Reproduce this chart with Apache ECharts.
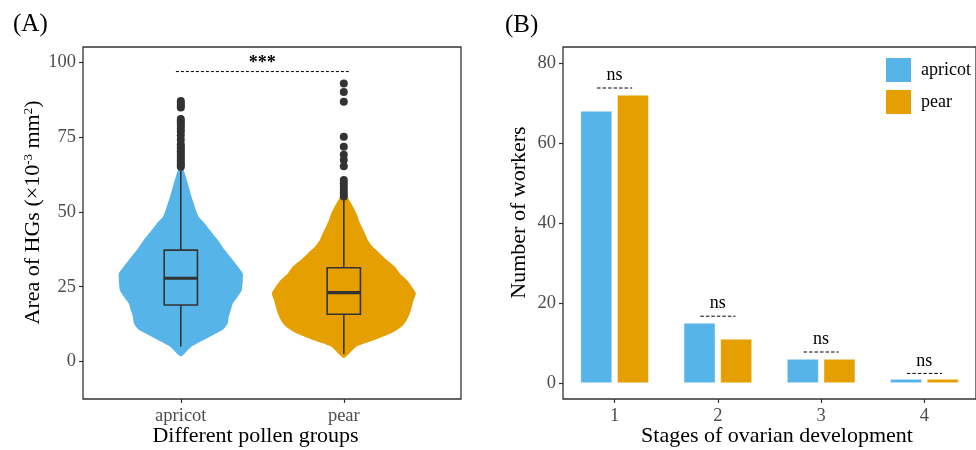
<!DOCTYPE html>
<html><head><meta charset="utf-8">
<script src="https://cdn.jsdelivr.net/npm/echarts@6/dist/echarts.min.js"></script>
<style>html,body{margin:0;padding:0;background:#fff}#c{width:976px;height:450px}</style>
</head><body><div id="c"></div>
<script>
// ---------- Panel A data ----------
const groups = ['apricot', 'pear'];
const groupX = [1, 2];
// violin outline: [value, half-width in x-axis units]
const violinApricot = [[1.7,0],[5,0.066],[8.3,0.178],[10.6,0.258],[12.8,0.288],[15,0.294],[17.2,0.307],[19.4,0.319],[21.7,0.35],[23.9,0.374],[27.2,0.38],[29.4,0.38],[31.7,0.35],[33.9,0.319],[37.2,0.27],[40.6,0.227],[43.9,0.178],[46.1,0.147],[48.3,0.11],[51.7,0.086],[55,0.066],[58.3,0.049],[61.7,0.031],[63.9,0.018],[66,0]];
const violinPear = [[1.2,0],[5,0.078],[7.2,0.19],[9.5,0.294],[11.7,0.356],[13.9,0.387],[16.1,0.405],[18.3,0.417],[20.6,0.429],[22.8,0.442],[25,0.417],[27.2,0.387],[29.4,0.344],[31.7,0.313],[33.9,0.264],[36.1,0.221],[38.3,0.178],[40.6,0.147],[42.8,0.129],[45,0.11],[47.2,0.092],[49.4,0.078],[51.7,0.057],[53.9,0.033],[55.6,0.017],[57.5,0]];
// box: [lower whisker, Q1, median, Q3, upper whisker]
const boxApricot = [5, 18.9, 27.8, 37.2, 63.9];
const boxPear = [2.5, 15.8, 23, 31.3, 54.5];
const outApricot = [65,65.6,66.3,67,67.8,68.6,69.4,70.2,71,71.8,72.5,74,75.5,76.8,77.7,78.6,79.5,80.2,81,84.8,85.5,86.3,87];
const outPear = [55.1,56.2,57.3,58.4,59.5,60.6,65.2,67.3,69,71.7,75,86.7,90,92.8];
const yTicksA = [0, 25, 50, 75, 100];
const sigAX = [0.97, 2.03];
const sigAY = 96.8;
const sigALabel = '***';

// ---------- Panel B data ----------
const stages = ['1', '2', '3', '4'];
const countApricot = [68, 15, 6, 1];
const countPear = [72, 11, 6, 1];
const yTicksB = [0, 20, 40, 60, 80];
const sigBY = [73.75, 16.7, 7.75, 2.4];
const sigBLabel = ['ns', 'ns', 'ns', 'ns'];

const colors = ['#56B4E9', '#E69F00'];
const FONT = 'Liberation Serif';
const tickColor = '#4d4d4d';

const chart = echarts.init(document.getElementById('c'), null, {renderer: 'canvas'});

function violinItem(params, api) {
  const i = params.dataIndex;
  const prof = [violinApricot, violinPear][i];
  const x = groupX[i];
  const right = prof.map(p => api.coord([x + p[1], p[0]]));
  const left = prof.slice(1, -1).reverse().map(p => api.coord([x - p[1], p[0]]));
  return {type: 'polygon', shape: {points: right.concat(left), smooth: 0.2},
    style: {fill: colors[i]}};
}
function boxItem(params, api) {
  const i = params.dataIndex;
  const b = [boxApricot, boxPear][i];
  const x = groupX[i];
  const hw = 0.102;
  const p = b.map(v => api.coord([x, v]));
  const l = api.coord([x - hw, b[1]])[0], r = api.coord([x + hw, b[1]])[0];
  const st = {stroke: '#333', lineWidth: 1.6, fill: null};
  return {type: 'group', children: [
    {type: 'line', shape: {x1: p[0][0], y1: p[0][1], x2: p[1][0], y2: p[1][1]}, style: st},
    {type: 'line', shape: {x1: p[3][0], y1: p[3][1], x2: p[4][0], y2: p[4][1]}, style: st},
    {type: 'rect', shape: {x: l, y: p[3][1], width: r - l, height: p[1][1] - p[3][1]}, style: {stroke: '#333', lineWidth: 1.6, fill: 'none'}},
    {type: 'line', shape: {x1: l, y1: p[2][1], x2: r, y2: p[2][1]}, style: {stroke: '#333', lineWidth: 3.2}}
  ]};
}
function sigAItem(params, api) {
  const p1 = api.coord([sigAX[0], sigAY]), p2 = api.coord([sigAX[1], sigAY]);
  return {type: 'group', children: [
    {type: 'line', shape: {x1: p1[0], y1: p1[1], x2: p2[0], y2: p2[1]}, style: {stroke: '#000', lineWidth: 1, lineDash: [3, 2]}},
    {type: 'text', x: (p1[0] + p2[0]) / 2, y: p1[1] - 8, style: {text: sigALabel, font: 'bold 18px ' + FONT, fill: '#000', align: 'center', verticalAlign: 'middle'}}
  ]};
}
function sigBItem(params, api) {
  const i = params.dataIndex;
  const c = api.coord([i, sigBY[i]]);
  const hw = api.size([1, 0])[0] * 0.17;
  return {type: 'group', children: [
    {type: 'line', shape: {x1: c[0] - hw, y1: c[1], x2: c[0] + hw, y2: c[1]}, style: {stroke: '#000', lineWidth: 1, lineDash: [3.5, 2]}},
    {type: 'text', x: c[0], y: c[1] - 12.5, style: {text: sigBLabel[i], font: '18px ' + FONT, fill: '#000', align: 'center', verticalAlign: 'middle'}}
  ]};
}

const axisTickStyle = {show: true, length: 4, lineStyle: {color: '#333', width: 1.2}};
const labelStyle = {color: tickColor, fontFamily: FONT, fontSize: 18.5};

const option = {
  animation: false,
  backgroundColor: '#fff',
  textStyle: {fontFamily: FONT},
  grid: [
    {left: 83, top: 47, width: 378, height: 352, show: true, borderColor: '#333', borderWidth: 1.3, containLabel: false},
    {left: 563, top: 47, width: 420, height: 352, show: true, borderColor: '#333', borderWidth: 1.3, containLabel: false}
  ],
  xAxis: [
    {type: 'value', gridIndex: 0, min: 0.4, max: 0.4 + 378 / 163,
      axisLine: {show: false, onZero: false}, splitLine: {show: false},
      axisTick: Object.assign({customValues: groupX}, axisTickStyle),
      axisLabel: Object.assign({customValues: groupX, margin: 8, formatter: v => groups[Math.round(v) - 1] || ''}, labelStyle)},
    {type: 'category', gridIndex: 1, data: stages, boundaryGap: true,
      axisLine: {show: false, onZero: false}, splitLine: {show: false},
      axisTick: Object.assign({alignWithLabel: true}, axisTickStyle),
      axisLabel: Object.assign({margin: 8}, labelStyle)}
  ],
  yAxis: [
    {type: 'value', gridIndex: 0, min: -12.5, max: 105,
      axisLine: {show: false, onZero: false}, splitLine: {show: false},
      axisTick: Object.assign({customValues: yTicksA}, axisTickStyle),
      axisLabel: Object.assign({customValues: yTicksA, margin: 7}, labelStyle)},
    {type: 'value', gridIndex: 1, min: -4, max: 84,
      axisLine: {show: false, onZero: false}, splitLine: {show: false},
      axisTick: Object.assign({customValues: yTicksB}, axisTickStyle),
      axisLabel: Object.assign({customValues: yTicksB, margin: 7}, labelStyle)}
  ],
  legend: {data: ['apricot', 'pear'], orient: 'vertical', left: 886, top: 58, padding: 0,
    itemWidth: 25, itemHeight: 24, itemGap: 8, icon: 'rect',
    textStyle: {fontFamily: FONT, fontSize: 18, color: '#000', padding: [0, 0, 0, 5]},
    itemStyle: {borderWidth: 0}},
  series: [
    {type: 'custom', name: 'violin', xAxisIndex: 0, yAxisIndex: 0, renderItem: violinItem,
      data: groupX.map(x => [x, 0]), encode: {x: 0, y: 1}, z: 1, silent: true},
    {type: 'custom', name: 'box', xAxisIndex: 0, yAxisIndex: 0, renderItem: boxItem,
      data: groupX.map(x => [x, 0]), encode: {x: 0, y: 1}, z: 2, silent: true},
    {type: 'scatter', name: 'outliers', xAxisIndex: 0, yAxisIndex: 0, symbolSize: 8,
      itemStyle: {color: '#333', opacity: 1},
      data: outApricot.map(v => [groupX[0], v]).concat(outPear.map(v => [groupX[1], v])), z: 3, silent: true},
    {type: 'custom', name: 'sigA', xAxisIndex: 0, yAxisIndex: 0, renderItem: sigAItem,
      data: [[sigAX[0], sigAY]], encode: {x: 0, y: 1}, z: 4, silent: true},
    {type: 'bar', name: 'apricot', xAxisIndex: 1, yAxisIndex: 1, data: countApricot,
      barWidth: 31.6, barGap: '16%', itemStyle: {color: colors[0], borderColor: 'rgba(255,255,255,0.7)', borderWidth: 0.6}},
    {type: 'bar', name: 'pear', xAxisIndex: 1, yAxisIndex: 1, data: countPear,
      barWidth: 31.6, barGap: '16%', itemStyle: {color: colors[1], borderColor: 'rgba(255,255,255,0.7)', borderWidth: 0.6}},
    {type: 'custom', name: 'sigB', xAxisIndex: 1, yAxisIndex: 1, renderItem: sigBItem,
      data: stages.map((s, i) => [i, sigBY[i]]), encode: {x: 0, y: 1}, z: 4, silent: true}
  ],
  graphic: [
    {type: 'text', left: 13, top: 12, style: {text: '(A)', font: '25px ' + FONT, fill: '#000'}},
    {type: 'text', left: 505, top: 13, style: {text: '(B)', font: '25px ' + FONT, fill: '#000'}},
    {type: 'text', x: 255.5, y: 436, style: {text: 'Different pollen groups', font: '22px ' + FONT, fill: '#000', align: 'center', verticalAlign: 'middle'}},
    {type: 'text', x: 777, y: 436, style: {text: 'Stages of ovarian development', font: '22px ' + FONT, fill: '#000', align: 'center', verticalAlign: 'middle'}},
    {type: 'text', x: 519, y: 212.5, rotation: Math.PI / 2, style: {text: 'Number of workers', font: '22px ' + FONT, fill: '#000', align: 'center', verticalAlign: 'middle'}},
    {type: 'text', x: 33, y: 212.5, rotation: Math.PI / 2, style: {
      text: '{m|Area of HGs (×10}{s|-3}{m| mm}{s|2}{m|)}', align: 'center', verticalAlign: 'middle',
      rich: {m: {fontFamily: FONT, fontSize: 22, fill: '#000', color: '#000', verticalAlign: 'bottom'},
             s: {fontFamily: FONT, fontSize: 13, fill: '#000', color: '#000', verticalAlign: 'top'}}}}
  ]
};
chart.setOption(option);
</script>
</body></html>
